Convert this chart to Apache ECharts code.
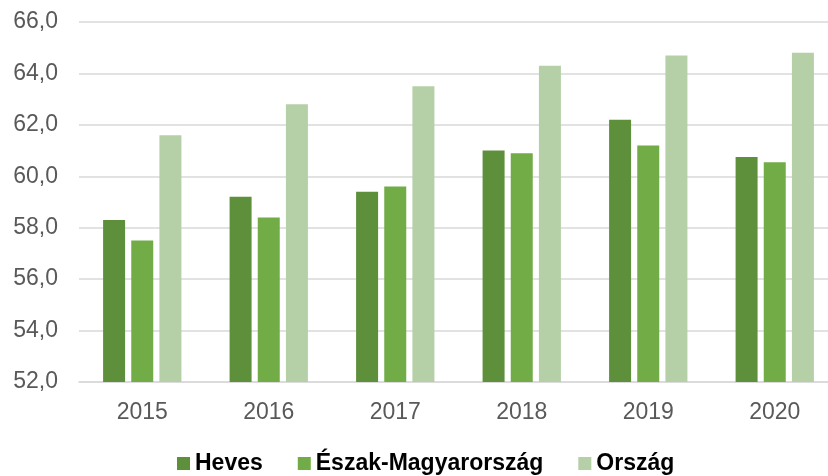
<!DOCTYPE html>
<html>
<head>
<meta charset="utf-8">
<script src="https://cdn.jsdelivr.net/npm/echarts@6/dist/echarts.min.js"></script>
<style>
html,body{margin:0;padding:0;background:#fff;overflow:hidden;width:828px;height:476px;}
/* 图表比窗口略宽，右侧被裁切，与原图一致 */
#chart{width:838px;height:476px;}
</style>
</head>
<body>
<div id="chart"></div>
<script>
// 年份
var years = ['2015', '2016', '2017', '2018', '2019', '2020'];
// 系列名称
var seriesNames = ['Heves', 'Észak-Magyarország', 'Ország'];
// 数据
var heves = [58.3, 59.2, 59.4, 61.0, 62.2, 60.75];
var eszak = [57.5, 58.4, 59.6, 60.9, 61.2, 60.55];
var orszag = [61.6, 62.8, 63.5, 64.3, 64.7, 64.8];
var colors = ['#5E8F3A', '#71AC47', '#B5CFA7'];

var chart = echarts.init(document.getElementById('chart'));
var font = '"Liberation Sans", Arial, sans-serif';

function bar(name, data) {
    return {
        name: name,
        type: 'bar',
        data: data,
        barWidth: 22,
        barGap: '28%',
        itemStyle: { borderWidth: 0 }
    };
}

var option = {
    animation: false,
    color: colors,
    grid: { left: 79, right: 0, top: 22, bottom: 94, containLabel: false },
    legend: {
        top: 447,
        left: 172,
        itemWidth: 13,
        itemHeight: 13,
        itemGap: 35,
        icon: 'rect',
        textStyle: { fontFamily: font, fontSize: 23, fontWeight: 'bold', color: '#000' },
        data: seriesNames
    },
    xAxis: {
        type: 'category',
        data: years,
        axisLine: { lineStyle: { color: '#d9d9d9', width: 1.5 } },
        axisTick: { show: false },
        axisLabel: { fontFamily: font, fontSize: 23, color: '#595959', margin: 19 }
    },
    yAxis: {
        type: 'value',
        min: 52,
        max: 66,
        interval: 2,
        axisLine: { show: false },
        axisTick: { show: false },
        splitLine: { lineStyle: { color: '#d9d9d9', width: 1.5 } },
        axisLabel: {
            fontFamily: font, fontSize: 23, color: '#595959', margin: 21,
            formatter: function (v) { return v.toFixed(1).replace('.', ','); }
        }
    },
    series: [
        bar(seriesNames[0], heves),
        bar(seriesNames[1], eszak),
        bar(seriesNames[2], orszag)
    ]
};
chart.setOption(option);
</script>
</body>
</html>
